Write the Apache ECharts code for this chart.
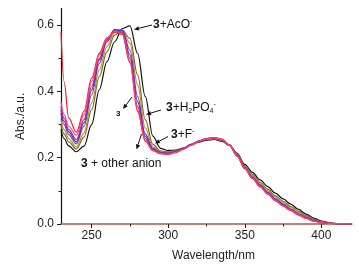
<!DOCTYPE html>
<html><head><meta charset="utf-8">
<script src="https://cdn.jsdelivr.net/npm/echarts@6/dist/echarts.min.js"></script>
<style>html,body{margin:0;padding:0;background:#fff}#c{width:359px;height:267px}</style>
</head><body><div id="c"></div>
<script>
const wavelength = [230,232,235,240,245,250,255,260,265,270,275,280,285,290,295,300,305,310,315,320,325,330,335,340,345,350,355,360,365,370,375,380,385,390,395,400,405,410,420];
const absAcO   = [0.285,0.258,0.236,0.218,0.235,0.300,0.405,0.490,0.550,0.590,0.598,0.515,0.385,0.265,0.228,0.222,0.223,0.229,0.239,0.247,0.253,0.255,0.250,0.237,0.213,0.180,0.156,0.133,0.113,0.093,0.076,0.060,0.044,0.030,0.018,0.009,0.004,0.001,0];
const absH2PO4 = [0.300,0.272,0.248,0.226,0.262,0.345,0.445,0.520,0.570,0.585,0.560,0.450,0.315,0.240,0.220,0.218,0.220,0.229,0.240,0.249,0.255,0.257,0.252,0.238,0.212,0.176,0.150,0.126,0.105,0.085,0.068,0.053,0.038,0.025,0.014,0.007,0.003,0.001,0];
const absF     = [0.315,0.285,0.258,0.232,0.275,0.365,0.465,0.535,0.578,0.585,0.545,0.420,0.290,0.233,0.218,0.216,0.219,0.228,0.240,0.249,0.256,0.258,0.253,0.238,0.210,0.173,0.146,0.122,0.101,0.081,0.064,0.049,0.034,0.022,0.012,0.006,0.003,0.001,0];
const absOtherA= [0.335,0.300,0.270,0.242,0.295,0.390,0.485,0.550,0.585,0.585,0.525,0.385,0.272,0.228,0.216,0.214,0.218,0.228,0.240,0.250,0.257,0.259,0.254,0.238,0.208,0.171,0.142,0.118,0.096,0.076,0.060,0.045,0.031,0.020,0.011,0.005,0.002,0.001,0];
const absOtherB= [0.345,0.310,0.278,0.248,0.305,0.405,0.495,0.556,0.587,0.583,0.510,0.370,0.265,0.226,0.215,0.213,0.218,0.228,0.240,0.250,0.258,0.260,0.255,0.238,0.207,0.170,0.140,0.116,0.094,0.074,0.058,0.043,0.030,0.019,0.010,0.005,0.002,0.001,0];
const absOtherC= [0.355,0.320,0.285,0.255,0.315,0.415,0.500,0.555,0.582,0.578,0.500,0.355,0.258,0.224,0.214,0.212,0.217,0.227,0.239,0.250,0.258,0.261,0.256,0.238,0.206,0.169,0.139,0.114,0.092,0.072,0.056,0.042,0.029,0.018,0.009,0.004,0.002,0.001,0];
const absFree  = [0.580,0.430,0.320,0.277,0.340,0.440,0.515,0.562,0.580,0.572,0.487,0.340,0.250,0.221,0.212,0.210,0.216,0.226,0.238,0.249,0.257,0.260,0.255,0.238,0.205,0.166,0.137,0.112,0.090,0.070,0.054,0.040,0.027,0.017,0.009,0.004,0.002,0.001,0];
const absOtherD= [0.370,0.330,0.295,0.268,0.330,0.430,0.510,0.560,0.582,0.575,0.490,0.345,0.252,0.222,0.213,0.211,0.216,0.226,0.238,0.249,0.257,0.260,0.255,0.238,0.205,0.168,0.138,0.113,0.091,0.071,0.055,0.041,0.028,0.017,0.009,0.004,0.002,0.001,0];
const xMajorTicks = [250,300,350,400];
const xMinorTicks = [275,325,375];
const yMajorTicks = [0,0.2,0.4,0.6];
const yMinorTicks = [0.1,0.3,0.5];

const FONT = '"Liberation Sans", Arial, sans-serif';
const seriesDefs = [
  {d: absAcO, c: '#121212'},
  {d: absH2PO4, c: '#7a6a22'},
  {d: absF, c: '#b0962e'},
  {d: absOtherA, c: '#8a3c9e'},
  {d: absOtherB, c: '#2a3ccc'},
  {d: absOtherC, c: '#c8207e'},
  {d: absFree, c: '#ec1c24'},
  {d: absOtherD, c: '#ff3d8e'}
];

function arrow(x1,y1,x2,y2){
  const a = Math.atan2(y2-y1, x2-x1), L = 5, W = 2.2;
  const bx = x2 - L*Math.cos(a), by = y2 - L*Math.sin(a);
  const px = -Math.sin(a)*W, py = Math.cos(a)*W;
  return [
    {type:'line', shape:{x1:x1,y1:y1,x2:bx,y2:by}, style:{stroke:'#111', lineWidth:1}},
    {type:'polygon', shape:{points:[[x2,y2],[bx+px,by+py],[bx-px,by-py]]}, style:{fill:'#111'}}
  ];
}
const rich = {
  b: {fontWeight:'bold', fontSize:12, fontFamily:FONT, fill:'#111', lineHeight:14},
  n: {fontSize:12, fontFamily:FONT, fill:'#111', lineHeight:14},
  sup: {fontSize:7, fontFamily:FONT, fill:'#111', verticalAlign:'top', lineHeight:7},
  sub: {fontSize:7, fontFamily:FONT, fill:'#111', verticalAlign:'bottom', lineHeight:7},
  bs: {fontWeight:'bold', fontSize:8, fontFamily:FONT, fill:'#111'}
};
function label(x,y,text){
  return {type:'text', x:x, y:y, style:{text:text, rich:rich, fontSize:12, fontFamily:FONT, fill:'#111', verticalAlign:'middle'}};
}

const chart = echarts.init(document.getElementById('c'), null, {renderer:'canvas'});
const axisBase = {type:'value', splitLine:{show:false}};
chart.setOption({
  backgroundColor:'#ffffff',
  animation:false,
  grid:{left:61, right:7, top:8.6, bottom:42.3, containLabel:false},
  xAxis:[
    Object.assign({}, axisBase, {min:230, max:420, position:'bottom',
      axisLine:{show:true, lineStyle:{color:'#b3564e', width:1.5}},
      axisTick:{show:true, customValues:xMajorTicks, length:4, lineStyle:{color:'#222'}},
      axisLabel:{customValues:xMajorTicks, margin:6, fontSize:12, fontFamily:FONT, color:'#222'},
      name:'Wavelength/nm', nameLocation:'middle', nameGap:26,
      nameTextStyle:{fontSize:12, fontFamily:FONT, color:'#222', padding:[0,0,0,14]}}),
    Object.assign({}, axisBase, {min:230, max:420, position:'bottom',
      axisLine:{show:false},
      axisTick:{show:true, customValues:xMinorTicks, length:2.5, lineStyle:{color:'#222'}},
      axisLabel:{show:false}})
  ],
  yAxis:[
    Object.assign({}, axisBase, {min:0, max:0.65, position:'left',
      axisLine:{show:true, lineStyle:{color:'#111', width:1.2}},
      axisTick:{show:true, customValues:yMajorTicks, length:4, lineStyle:{color:'#222'}},
      axisLabel:{customValues:yMajorTicks, margin:7, fontSize:12, fontFamily:FONT, color:'#222', formatter:v=>v.toFixed(1)},
      name:'Abs./a.u.', nameLocation:'middle', nameGap:30,
      nameTextStyle:{fontSize:12, fontFamily:FONT, color:'#222'}}),
    Object.assign({}, axisBase, {min:0, max:0.65, position:'left',
      axisLine:{show:false},
      axisTick:{show:true, customValues:yMinorTicks, length:2.5, lineStyle:{color:'#222'}},
      axisLabel:{show:false}})
  ],
  series: seriesDefs.map(s => ({
    type:'line', xAxisIndex:0, yAxisIndex:0,
    data: wavelength.map((w,i)=>[w, s.d[i]]),
    showSymbol:false, smooth:0.35, smoothMonotone:'x',
    lineStyle:{color:s.c, width:1.2}, itemStyle:{color:s.c}, z:2
  })),
  graphic:[
    label(153,25,'{b|3}{n|+AcO}{sup|-}'),
    label(116,114,'{bs|3}'),
    label(166,108,'{b|3}{n|+H}{sub|2}{n|PO}{sub|4}{sup|-}'),
    label(171,135,'{b|3}{n|+F}{sup|-}'),
    label(81,164,'{b|3}{n| + other anion}'),
    ...arrow(152,25,134,29.5),
    ...arrow(132,97,123,109),
    ...arrow(161,110,146,114.5),
    ...arrow(168,136.5,155,143.5),
    ...arrow(141.5,134,136.5,149.5)
  ]
});
</script></body></html>
